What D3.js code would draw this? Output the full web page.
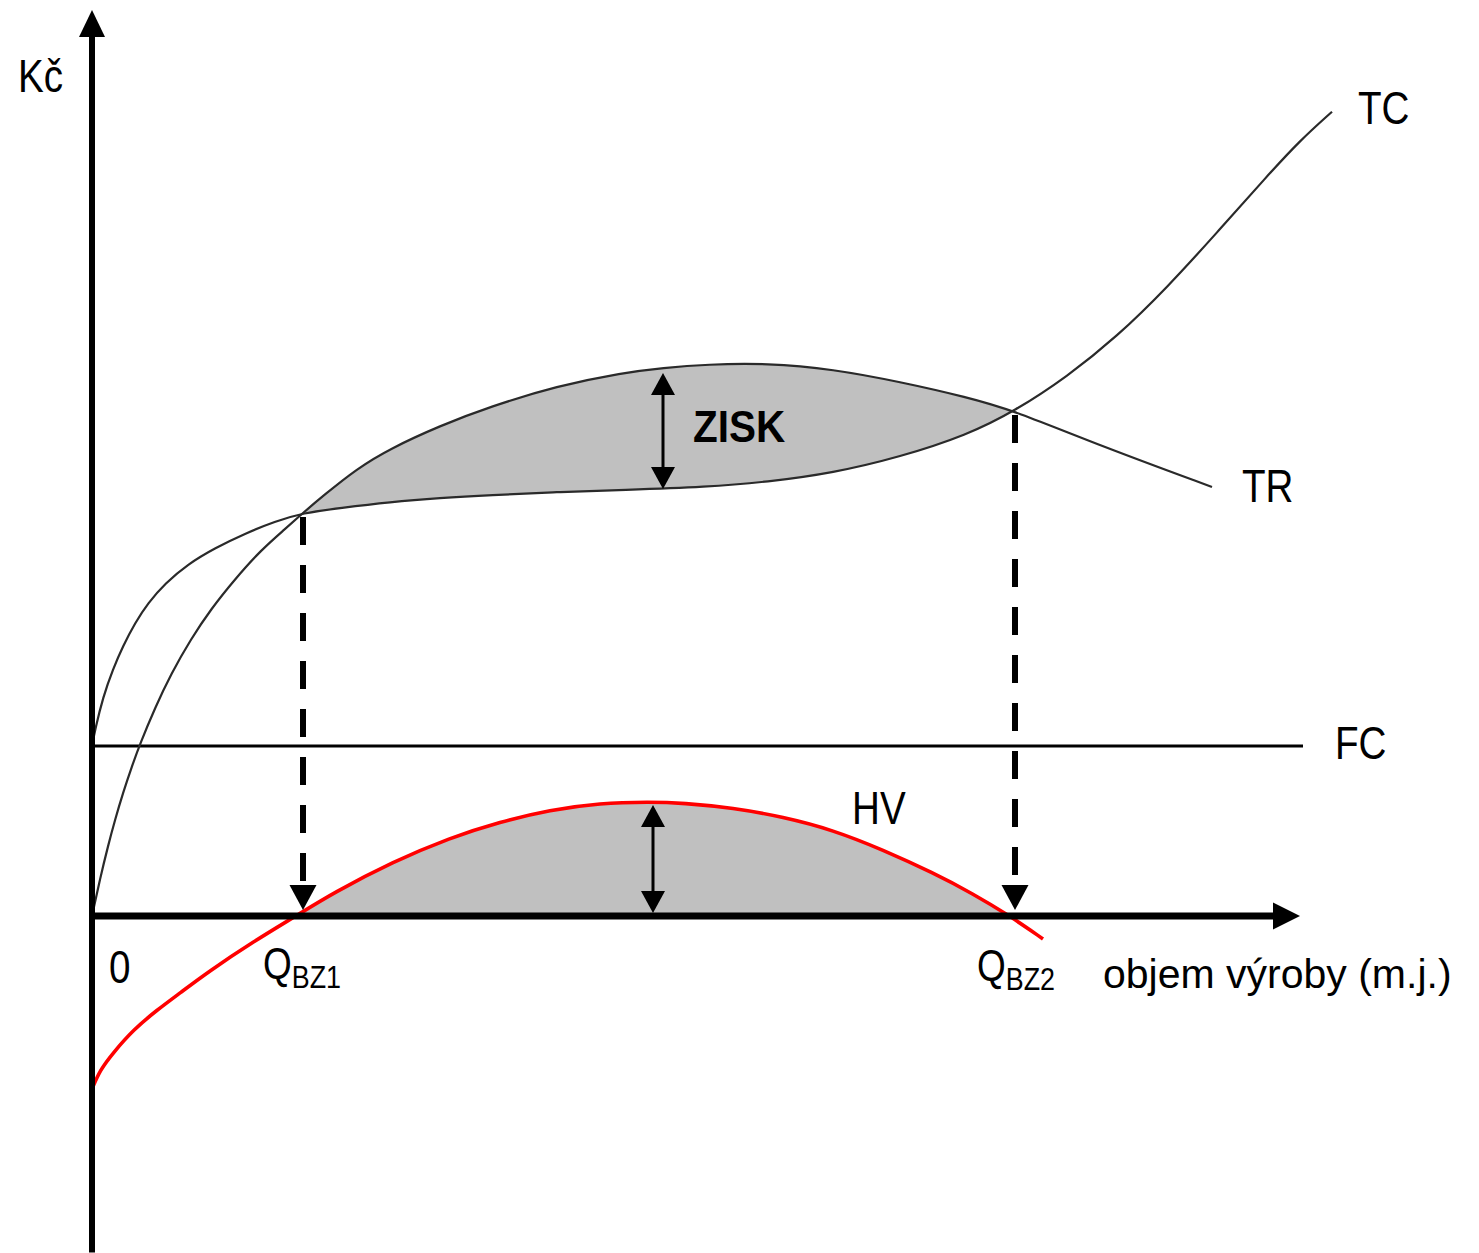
<!DOCTYPE html>
<html>
<head>
<meta charset="utf-8">
<script src="https://cdn.jsdelivr.net/npm/d3@7"></script>
<style>
  body { margin: 0; background: #fff; }
  svg { display: block; }
  text { font-family: "Liberation Sans", Arial, sans-serif; fill: #000; }
</style>
</head>
<body>
<svg id="chart"></svg>
<script>
// Break-even diagram: TC, TR, FC and the result curve HV
// x = objem výroby (arbitrary units), y = Kč (FC = 100)

var tcQ = [0, 0.3, 1.1, 2.1, 3.1, 4.3, 5.6, 7.3, 9.6, 12.3, 15.3, 18.3, 21.1, 24.8, 29.8, 34.8,
  39.8, 46.5, 53.1, 61.5, 67.5, 74.1, 80.8, 87.5, 92.3, 97.5, 102.5, 107.5, 112.5, 117.5, 120.8, 124.0];
var tcV = [100, 109.4, 128.8, 145.3, 158.8, 172.4, 184.1, 195.6, 207.1, 216.5, 225.0, 232.1, 237.1, 240, 243.5, 245.9,
  247.6, 249.4, 250.6, 252.4, 255.3, 260.6, 270.0, 282.9, 297.1, 317.2, 340.8, 369.6, 402.0, 435.2, 456.2, 473.1];

var trQ = [0, 0.8, 1.6, 2.3, 3.1, 4.0, 4.8, 6.3, 7.9, 9.9, 11.9, 14.3, 16.9, 19.3, 21.1, 23.1, 26.5,
  29.8, 34.8, 39.8, 46.5, 53.1, 57.1, 61.5, 67.5, 74.1, 80.8, 87.5, 92.3, 100.8, 112.0];
var trV = [0, 21.8, 41.2, 56.5, 72.4, 88.2, 101.2, 122.4, 142.4, 163.0, 180.6, 198.2, 215.3, 227.6, 237.1, 247.1, 263.2,
  274.9, 288.4, 299.6, 311.8, 319.6, 322.4, 324.5, 325.2, 321.7, 314.2, 305.2, 297.1, 276.7, 252.4];

var hvQ = [0, 0.8, 2.1, 4.1, 6.5, 8.8, 11.6, 16.1, 20.4, 24.1, 30.1, 35.8, 40.8, 45.8, 50.8, 55.8,
  59.1, 64.1, 69.1, 74.1, 79.1, 84.1, 88.1, 91.8, 95.1];
var hvV = [-101.8, -90.6, -80.6, -67.1, -55.3, -45.3, -32.9, -15.2, 0, 13.5, 31.9, 46.0, 55.4, 62.4, 66.5, 67.1,
  66.5, 63.6, 58.3, 50.6, 38.9, 25.4, 13.1, 0, -13.5];

var FC_LEVEL = 100;

var breakEvenNames = ['BZ1', 'BZ2'];
var breakEvenQ = [21.1, 92.3];
var breakEvenV = [237.1, 297.1];

// double arrows: ZISK between TC and TR, HV between axis and curve
var profitArrowQ = 57.1, profitArrowV = [249.4, 320.6];
var hvArrowQ = 56.1, hvArrowV = [0, 66.5];

var AXIS_TOP = 533, AXIS_BOTTOM = -198, AXIS_RIGHT = 120.8, FC_END = 121.1;

var W = 1479, H = 1253;

var x = d3.scaleLinear().domain([0, 121]).range([92, 1302]);
var y = d3.scaleLinear().domain([0, 100]).range([916, 746]);

var svg = d3.select('#chart').attr('width', W).attr('height', H);

function pts(qs, vs) {
  return qs.map(function (q, i) { return [q, vs[i]]; });
}
var tc = pts(tcQ, tcV), tr = pts(trQ, trV), hv = pts(hvQ, hvV);

var curve = d3.curveBasis;

var line = d3.line()
  .x(function (d) { return x(d[0]); })
  .y(function (d) { return y(d[1]); })
  .curve(curve);

// triangle pointing in direction dir ('up','down','right') with its tip at (px,py)
function arrowHead(px, py, dir, w, h) {
  var p = d3.path();
  if (dir === 'up') {
    p.moveTo(px, py); p.lineTo(px - w / 2, py + h); p.lineTo(px + w / 2, py + h);
  } else if (dir === 'down') {
    p.moveTo(px, py); p.lineTo(px - w / 2, py - h); p.lineTo(px + w / 2, py - h);
  } else {
    p.moveTo(px, py); p.lineTo(px - h, py - w / 2); p.lineTo(px - h, py + w / 2);
  }
  p.closePath();
  return p.toString();
}

var defs = svg.append('defs');

// region above TC (used to cut the profit area out of the area under TR)
defs.append('clipPath').attr('id', 'aboveTC')
  .append('path')
  .attr('d', d3.area()
    .x(function (d) { return x(d[0]); })
    .y0(0)
    .y1(function (d) { return y(d[1]); })
    .curve(curve)(tc));

defs.append('clipPath').attr('id', 'aboveAxis')
  .append('rect')
  .attr('x', 0).attr('y', 0).attr('width', W).attr('height', y(0));

// ZISK fill
svg.append('path')
  .attr('clip-path', 'url(#aboveTC)')
  .attr('fill', '#c0c0c0')
  .attr('d', d3.area()
    .x(function (d) { return x(d[0]); })
    .y0(H)
    .y1(function (d) { return y(d[1]); })
    .curve(curve)(tr));

// HV fill (positive part only)
svg.append('path')
  .attr('clip-path', 'url(#aboveAxis)')
  .attr('fill', '#c0c0c0')
  .attr('d', d3.area()
    .x(function (d) { return x(d[0]); })
    .y0(y(0))
    .y1(function (d) { return y(d[1]); })
    .curve(curve)(hv));

// FC
svg.append('line')
  .attr('x1', x(0)).attr('x2', x(FC_END))
  .attr('y1', y(FC_LEVEL)).attr('y2', y(FC_LEVEL))
  .attr('stroke', '#000').attr('stroke-width', 3);

// TC, TR
[tc, tr].forEach(function (data) {
  svg.append('path')
    .attr('d', line(data))
    .attr('fill', 'none')
    .attr('stroke', '#2a2a2a')
    .attr('stroke-width', 2.2);
});

// HV
svg.append('path')
  .attr('d', line(hv))
  .attr('fill', 'none')
  .attr('stroke', '#ff0000')
  .attr('stroke-width', 3.6);

// dashed drops at break-even points
breakEvenQ.forEach(function (q, i) {
  var px = x(q);
  svg.append('line')
    .attr('x1', px).attr('x2', px)
    .attr('y1', y(breakEvenV[i]) + 4).attr('y2', y(0) - 30)
    .attr('stroke', '#000').attr('stroke-width', 6)
    .attr('stroke-dasharray', '28,20');
  svg.append('path')
    .attr('d', arrowHead(px, y(0) - 6, 'down', 27, 25))
    .attr('fill', '#000');
});

// double arrows
function doubleArrow(q, v, w, h) {
  var px = x(q), top = y(v[1]) + 2, bottom = y(v[0]) - 3;
  svg.append('line')
    .attr('x1', px).attr('x2', px)
    .attr('y1', top + 10).attr('y2', bottom - 10)
    .attr('stroke', '#000').attr('stroke-width', 3);
  svg.append('path').attr('d', arrowHead(px, top, 'up', w, h)).attr('fill', '#000');
  svg.append('path').attr('d', arrowHead(px, bottom, 'down', w, h)).attr('fill', '#000');
}
doubleArrow(profitArrowQ, profitArrowV, 24, 22);
doubleArrow(hvArrowQ, hvArrowV, 24, 22);

// axes
svg.append('line')
  .attr('x1', x(0)).attr('x2', x(0))
  .attr('y1', y(AXIS_BOTTOM)).attr('y2', y(AXIS_TOP) + 20)
  .attr('stroke', '#000').attr('stroke-width', 6);
svg.append('path').attr('d', arrowHead(x(0), y(AXIS_TOP), 'up', 26, 27)).attr('fill', '#000');

svg.append('line')
  .attr('x1', x(0) - 3).attr('x2', x(AXIS_RIGHT) - 20)
  .attr('y1', y(0)).attr('y2', y(0))
  .attr('stroke', '#000').attr('stroke-width', 7);
svg.append('path').attr('d', arrowHead(x(AXIS_RIGHT), y(0), 'right', 27, 27)).attr('fill', '#000');

// labels; the original uses a narrow bitmap face, so caps are squeezed horizontally
function label(tx, ty, str, size, sx, weight) {
  return svg.append('text')
    .attr('transform', 'translate(' + tx + ',' + ty + ') scale(' + (sx || 1) + ',1)')
    .attr('font-size', size)
    .attr('font-weight', weight || 'normal')
    .text(str);
}

var NARROW = 0.84;
label(x(0) - 74, y(AXIS_TOP) + 82, 'Kč', 46, NARROW);
label(x(tcQ[tcQ.length - 1]) + 26, y(tcV[tcV.length - 1]) + 12, 'TC', 46, NARROW);
label(x(trQ[trQ.length - 1]) + 30, y(trV[trV.length - 1]) + 15, 'TR', 46, NARROW);
label(x(FC_END) + 32, y(FC_LEVEL) + 13, 'FC', 46, NARROW);
label(x(76), y(54), 'HV', 46, NARROW);
label(x(profitArrowQ) + 30, y(profitArrowV[0]) - 50, 'ZISK', 44, 0.92, 'bold');
label(x(0) + 17, y(0) + 67, '0', 46, NARROW);

breakEvenQ.forEach(function (q, i) {
  var t = svg.append('text')
    .attr('transform', 'translate(' + (x(q) - 40 + i * 2) + ',' + (y(0) + 63 + i * 2) + ') scale(' + NARROW + ',1)')
    .attr('font-size', 44);
  t.append('tspan').text('Q');
  t.append('tspan').attr('font-size', 32).attr('dy', 9).text(breakEvenNames[i]);
});

label(x(AXIS_RIGHT) - 197, y(0) + 72, 'objem výroby (m.j.)', 41, 1);
</script>
</body>
</html>
